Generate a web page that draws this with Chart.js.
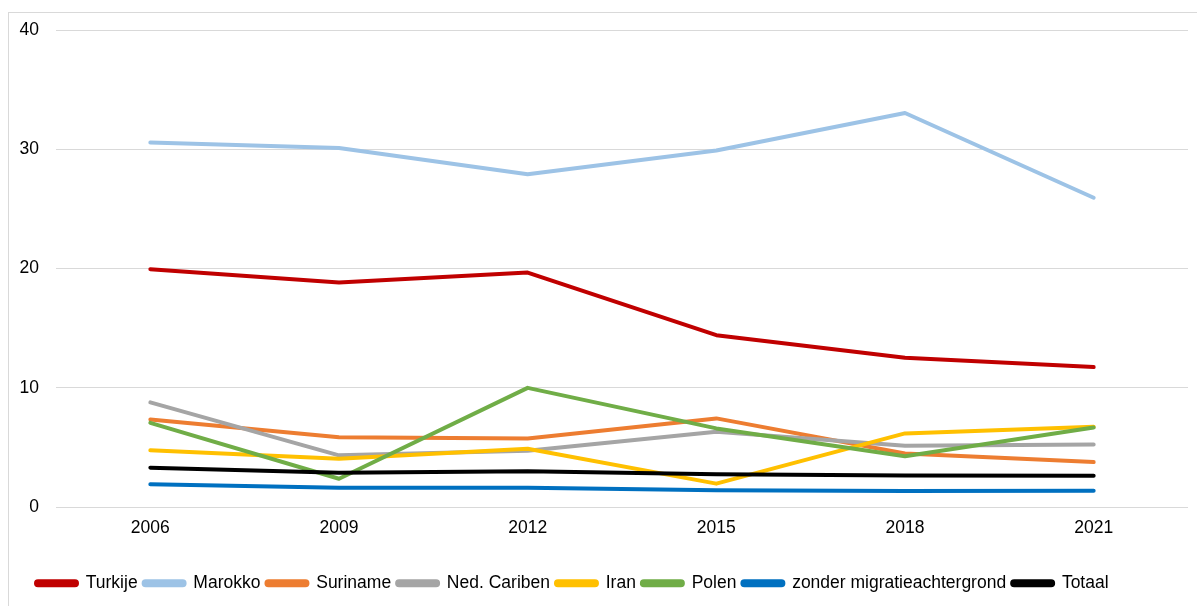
<!DOCTYPE html>
<html>
<head>
<meta charset="utf-8">
<script src="https://cdn.jsdelivr.net/npm/chart.js@4"></script>
<style>
html,body{margin:0;padding:0;background:#fff;}
#wrap{width:1197px;height:606px;position:relative;}
</style>
</head>
<body>
<div id="wrap"><canvas id="c" width="1197" height="606"></canvas></div>
<script>
const categories = ["2006","2009","2012","2015","2018","2021"];
const seriesNames = ["Turkije","Marokko","Suriname","Ned. Cariben","Iran","Polen","zonder migratieachtergrond","Totaal"];
const turkije  = [19.94, 18.83, 19.66, 14.41, 12.51, 11.73];
const marokko  = [30.56, 30.11, 27.9, 29.9, 33.04, 25.93];
const suriname = [7.34, 5.84, 5.75, 7.43, 4.49, 3.77];
const nedCariben = [8.77, 4.33, 4.72, 6.31, 5.13, 5.25];
const iran     = [4.75, 4.05, 4.88, 1.96, 6.17, 6.72];
const polen    = [7.06, 2.37, 9.99, 6.59, 4.25, 6.67];
const zonder   = [1.90, 1.62, 1.62, 1.40, 1.34, 1.37];
const totaal   = [3.30, 2.87, 2.99, 2.74, 2.65, 2.62];
const yTicks = [0, 10, 20, 30, 40];
const colors = ["#C00000","#9DC3E6","#ED7D31","#A5A5A5","#FFC000","#70AD47","#0070C0","#000000"];
const values = [turkije, marokko, suriname, nedCariben, iran, polen, zonder, totaal];

const FONT = { family: 'Liberation Sans, Arial, sans-serif', size: 17.5 };
const BOTTOM_PAD = 4;
const PLOT_BOTTOM = 507;
const LEFT_PAD = 18;

const borderPlugin = {
  id: 'outerBorder',
  beforeDraw(chart) {
    const ctx = chart.ctx;
    ctx.save();
    ctx.fillStyle = '#fff';
    ctx.fillRect(0, 0, chart.width, chart.height);
    ctx.strokeStyle = '#d9d9d9';
    ctx.lineWidth = 1;
    ctx.strokeRect(8.5, 12.5, chart.width + 10, chart.height + 10);
    ctx.restore();
    if (chart.legend) { chart.legend.left = 30; }
  }
};

new Chart(document.getElementById('c'), {
  type: 'line',
  data: {
    labels: categories,
    datasets: seriesNames.map((n, i) => ({
      label: n,
      data: values[i],
      borderColor: colors[i],
      backgroundColor: colors[i],
      borderWidth: 4,
      pointRadius: 0,
      pointHoverRadius: 0,
      tension: 0,
      fill: false,
      borderCapStyle: 'round',
      borderJoinStyle: 'round',
      order: seriesNames.length - i
    }))
  },
  options: {
    responsive: false,
    animation: false,
    devicePixelRatio: 1,
    layout: { padding: { left: LEFT_PAD, right: 9, top: 30, bottom: BOTTOM_PAD } },
    scales: {
      x: {
        type: 'category',
        offset: true,
        grid: { display: false, drawTicks: false },
        border: { display: false },
        ticks: { color: '#000', font: FONT, padding: 11 },
        afterFit(axis) {
          const lh = axis.chart.legend ? axis.chart.legend.height : 40;
          axis.height = 606 - BOTTOM_PAD - lh - PLOT_BOTTOM;
        }
      },
      y: {
        min: 0, max: 40,
        afterBuildTicks(axis) { axis.ticks = yTicks.map(v => ({ value: v })); },
        grid: { color: '#d9d9d9', lineWidth: 1, drawTicks: false },
        border: { display: false },
        ticks: { color: '#000', font: FONT, padding: 17 },
        afterFit(axis) { axis.width = 56 - LEFT_PAD; }
      }
    },
    plugins: {
      legend: {
        position: 'bottom',
        align: 'start',
        reverse: true,
        labels: {
          color: '#000',
          font: FONT,
          boxWidth: 41,
          boxHeight: 4,
          padding: 6,
          useBorderRadius: true,
          borderRadius: 2
        }
      },
      tooltip: { enabled: false }
    }
  },
  plugins: [borderPlugin]
});
</script>
</body>
</html>
